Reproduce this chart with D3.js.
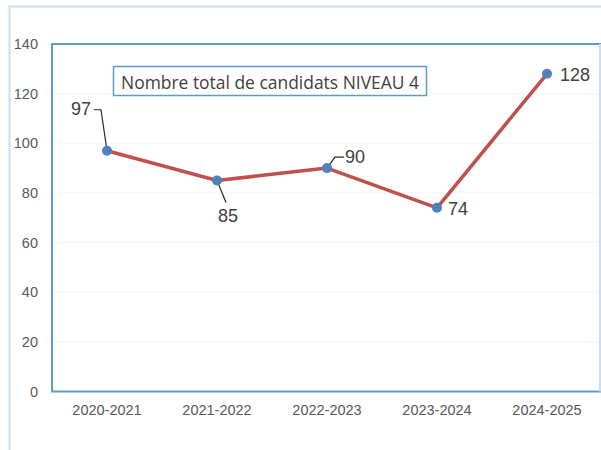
<!DOCTYPE html>
<html>
<head>
<meta charset="utf-8">
<script src="https://cdn.jsdelivr.net/npm/d3@7"></script>
<style>
  html, body { margin: 0; padding: 0; background: #fff; }
  svg { display: block; }
</style>
</head>
<body>
<svg id="chart" width="601" height="450"></svg>
<script>
const categories = ["2020-2021", "2021-2022", "2022-2023", "2023-2024", "2024-2025"];
const values = [97, 85, 90, 74, 128];
const yTicks = [0, 20, 40, 60, 80, 100, 120, 140];
const title = "Nombre total de candidats NIVEAU 4";

const svg = d3.select("#chart");
const W = 601, H = 450;
const plot = { left: 52, right: 602, top: 44, bottom: 391.5 };

// outer chart frame (pale blue)
svg.append("path")
  .attr("d", `M${W + 5},6.5 H9.5 V${H + 5}`)
  .attr("fill", "none")
  .attr("stroke", "#c9def2")
  .attr("stroke-width", 2);

const x = d3.scaleBand().domain(categories).range([plot.left, plot.right]);
const y = d3.scaleLinear().domain([0, 140]).range([plot.bottom, plot.top]);

// gridlines
svg.append("g")
  .selectAll("line")
  .data(yTicks.filter(d => d > 0 && d < 140))
  .join("line")
  .attr("x1", plot.left).attr("x2", 599)
  .attr("y1", d => y(d)).attr("y2", d => y(d))
  .attr("stroke", "#eef4fa")
  .attr("stroke-width", 1);

// plot area border
svg.append("rect")
  .attr("x", plot.left).attr("y", plot.top)
  .attr("width", 600 - plot.left).attr("height", plot.bottom - plot.top)
  .attr("fill", "none")
  .attr("stroke", "#5b9bd5")
  .attr("stroke-width", 2);
svg.append("line")
  .attr("x1", 600).attr("x2", 600)
  .attr("y1", plot.top).attr("y2", plot.bottom)
  .attr("stroke", "#c9def2").attr("stroke-width", 2);

// y axis
const yAxis = d3.axisLeft(y).tickValues(yTicks).tickSize(0).tickPadding(14);
const gy = svg.append("g").attr("transform", `translate(${plot.left},0)`).call(yAxis);
gy.select(".domain").remove();
gy.selectAll("text")
  .attr("font-family", "Liberation Sans, Arial, sans-serif")
  .attr("font-size", 14.5)
  .attr("fill", "#595959");

// x axis
const xAxis = d3.axisBottom(x).tickSize(0).tickPadding(13);
const gx = svg.append("g").attr("transform", `translate(0,${plot.bottom})`).call(xAxis);
gx.select(".domain").remove();
gx.selectAll("text")
  .attr("font-family", "Liberation Sans, Arial, sans-serif")
  .attr("font-size", 14.5)
  .attr("fill", "#595959");

const cx = i => x(categories[i]) + x.bandwidth() / 2;

// line
svg.append("path")
  .datum(values)
  .attr("fill", "none")
  .attr("stroke", "#c0504d")
  .attr("stroke-width", 3.5)
  .attr("stroke-linejoin", "round")
  .attr("d", d3.line().x((d, i) => cx(i)).y(d => y(d)));

// data labels with leader lines
const labelSpec = [
  { dx: -26, dy: -42, anchor: "middle", leader: [[0, 0], [-6, -41], [-13, -41]] },
  { dx: 11, dy: 35, anchor: "middle", leader: [[0, 0], [9, 22]] },
  { dx: 18, dy: -11, anchor: "start", leader: [[0, 0], [8, -11], [17, -11]] },
  { dx: 11, dy: 1, anchor: "start", leader: null },
  { dx: 13, dy: 1, anchor: "start", leader: null }
];

const lg = svg.append("g");
values.forEach((v, i) => {
  const px = cx(i), py = y(v);
  const s = labelSpec[i];
  if (s.leader) {
    lg.append("path")
      .attr("d", d3.line()(s.leader.map(p => [px + p[0], py + p[1]])))
      .attr("fill", "none")
      .attr("stroke", "#262626")
      .attr("stroke-width", 1.2);
  }
  lg.append("text")
    .attr("x", px + s.dx).attr("y", py + s.dy)
    .attr("text-anchor", s.anchor)
    .attr("dominant-baseline", "central")
    .attr("font-family", "Liberation Sans, Arial, sans-serif")
    .attr("font-size", 18)
    .attr("fill", "#404040")
    .text(v);
});

// markers
svg.append("g")
  .selectAll("circle")
  .data(values)
  .join("circle")
  .attr("cx", (d, i) => cx(i))
  .attr("cy", d => y(d))
  .attr("r", 5)
  .attr("fill", "#4f81bd");

// title box
const tb = svg.append("g");
tb.append("rect")
  .attr("x", 113.5).attr("y", 66.5).attr("width", 313).attr("height", 29)
  .attr("fill", "#fff")
  .attr("stroke", "#5b9bd5")
  .attr("stroke-width", 1.5);
const tt = tb.append("text")
  .attr("x", 270).attr("y", 81.5)
  .attr("text-anchor", "middle")
  .attr("dominant-baseline", "central")
  .attr("font-family", "Open Sans, sans-serif")
  .attr("font-size", 14)
  .attr("fill", "#404040")
  .text(title);
// fit title width to the box like the reference
const len = tt.node().getComputedTextLength();
tt.attr("font-size", 14 * 298 / len);
</script>
</body>
</html>
